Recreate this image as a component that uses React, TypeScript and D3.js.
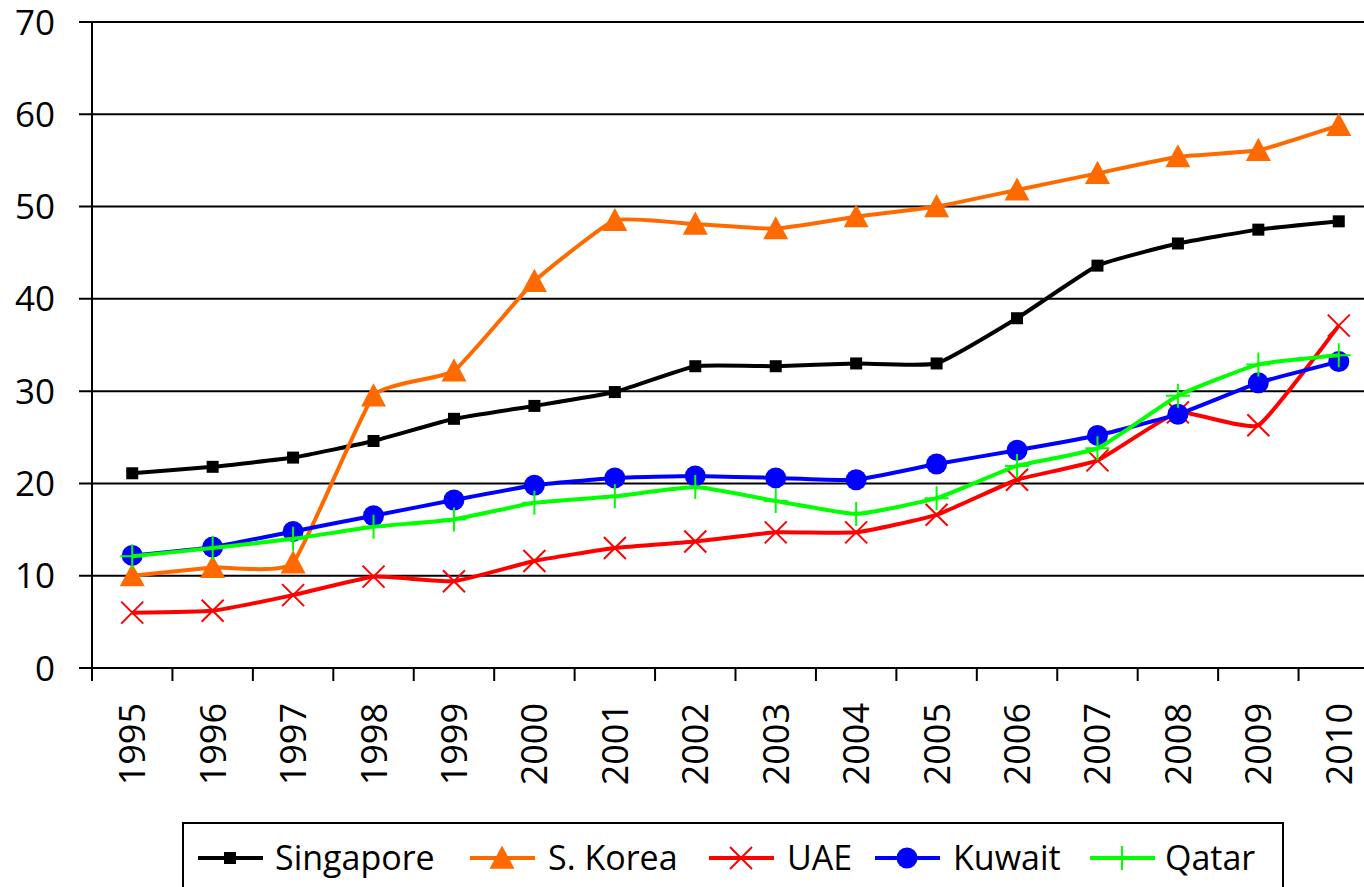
import * as d3 from 'd3';

const years = ['1995', '1996', '1997', '1998', '1999', '2000', '2001', '2002', '2003', '2004', '2005', '2006', '2007', '2008', '2009', '2010'];

const singapore = [21.1, 21.8, 22.8, 24.6, 27.0, 28.4, 29.9, 32.7, 32.7, 33.0, 33.0, 37.9, 43.6, 46.0, 47.5, 48.4];
const sKorea = [10.0, 10.9, 11.4, 29.5, 32.2, 41.9, 48.5, 48.1, 47.6, 48.9, 50.0, 51.8, 53.6, 55.4, 56.1, 58.8];
const uae = [6.0, 6.2, 7.9, 9.9, 9.4, 11.6, 13.0, 13.7, 14.7, 14.7, 16.6, 20.4, 22.5, 27.7, 26.3, 37.1];
const kuwait = [12.2, 13.1, 14.8, 16.5, 18.2, 19.8, 20.6, 20.8, 20.6, 20.4, 22.1, 23.6, 25.2, 27.5, 30.9, 33.2];
const qatar = [12.1, 13.0, 14.0, 15.3, 16.1, 17.9, 18.6, 19.6, 18.1, 16.7, 18.4, 21.9, 23.8, 29.5, 32.9, 33.9];

const yTicks = [0, 10, 20, 30, 40, 50, 60, 70];

type Marker = 'square' | 'triangle' | 'x' | 'circle' | 'plus';

const series: { name: string; values: number[]; color: string; marker: Marker }[] = [
  { name: 'Singapore', values: singapore, color: '#000000', marker: 'square' },
  { name: 'S. Korea', values: sKorea, color: '#ff6a00', marker: 'triangle' },
  { name: 'UAE', values: uae, color: '#ff0000', marker: 'x' },
  { name: 'Kuwait', values: kuwait, color: '#0000ff', marker: 'circle' },
  { name: 'Qatar', values: qatar, color: '#00ff00', marker: 'plus' },
];

const W = 1364;
const H = 887;
const left = 92;
const right = 1379;
const top = 22;
const bottom = 668;
const font = '"Open Sans", sans-serif';

const x = d3.scalePoint<string>().domain(years).range([left, right]).padding(0.5);
const y = d3.scaleLinear().domain([0, 70]).range([bottom, top]);

function MarkerShape({ kind, cx, cy, color }: { kind: Marker; cx: number; cy: number; color: string }) {
  if (kind === 'square') {
    return <rect x={cx - 6} y={cy - 6} width={12} height={12} fill={color} />;
  }
  if (kind === 'triangle') {
    const s = 12.5;
    return <path d={`M${cx},${cy - s} L${cx + s},${cy + s * 0.85} L${cx - s},${cy + s * 0.85} Z`} fill={color} />;
  }
  if (kind === 'x') {
    const s = 11;
    return (
      <path
        d={`M${cx - s},${cy - s} L${cx + s},${cy + s} M${cx - s},${cy + s} L${cx + s},${cy - s}`}
        stroke={color}
        strokeWidth={2}
        fill="none"
      />
    );
  }
  if (kind === 'circle') {
    return <circle cx={cx} cy={cy} r={10.5} fill={color} />;
  }
  const s = 12;
  return (
    <path
      d={`M${cx - s},${cy} L${cx + s},${cy} M${cx},${cy - s} L${cx},${cy + s}`}
      stroke={color}
      strokeWidth={2}
      fill="none"
    />
  );
}

export default function App() {
  const line = d3
    .line<number>()
    .x((_, i) => x(years[i]) as number)
    .y((d) => y(d))
    .curve(d3.curveCardinal.tension(0.6));

  const step = x.step();
  const boundaries = d3.range(years.length + 1).map((i) => left + i * step);

  // legend layout
  const legendItems = [
    { lx: 198, tx: 275 },
    { lx: 470, tx: 548 },
    { lx: 709, tx: 787 },
    { lx: 875, tx: 953 },
    { lx: 1090, tx: 1165 },
  ];
  const legendY = 858;

  return (
    <svg width={W} height={H} style={{ position: 'absolute', left: 0, top: 0, background: '#fff' }}>
      {/* grid lines + y ticks */}
      {yTicks.map((t) => (
        <g key={t}>
          <line x1={left - 13} x2={W} y1={y(t)} y2={y(t)} stroke="#000" strokeWidth={2} />
          <text
            x={55}
            y={y(t)}
            dy="0.36em"
            textAnchor="end"
            fontFamily={font}
            fontSize={35}
            fill="#000"
          >
            {t}
          </text>
        </g>
      ))}
      {/* y axis */}
      <line x1={left} x2={left} y1={top} y2={bottom} stroke="#000" strokeWidth={2} />
      {/* x ticks */}
      {boundaries.map((bx, i) => (
        <line key={i} x1={bx} x2={bx} y1={bottom} y2={bottom + 13} stroke="#000" strokeWidth={2} />
      ))}
      {years.map((yr) => (
        <text
          key={yr}
          transform={`translate(${x(yr)},${703}) rotate(-90)`}
          textAnchor="end"
          dy="0.36em"
          fontFamily={font}
          fontSize={36}
          fill="#000"
        >
          {yr}
        </text>
      ))}
      {/* series */}
      {series.map((s) => (
        <g key={s.name}>
          <path d={line(s.values) || ''} fill="none" stroke={s.color} strokeWidth={4} strokeLinejoin="round" />
          {s.values.map((v, i) => (
            <MarkerShape key={i} kind={s.marker} cx={x(years[i]) as number} cy={y(v)} color={s.color} />
          ))}
        </g>
      ))}
      {/* legend */}
      <rect x={183} y={823} width={1100} height={80} fill="#fff" stroke="#000" strokeWidth={2} />
      {series.map((s, i) => {
        const it = legendItems[i];
        return (
          <g key={s.name}>
            <line x1={it.lx} x2={it.lx + 65} y1={legendY} y2={legendY} stroke={s.color} strokeWidth={4} />
            <MarkerShape kind={s.marker} cx={it.lx + 32} cy={legendY} color={s.color} />
            <text x={it.tx} y={legendY} dy="0.36em" fontFamily={font} fontSize={34} fill="#000">
              {s.name}
            </text>
          </g>
        );
      })}
    </svg>
  );
}
